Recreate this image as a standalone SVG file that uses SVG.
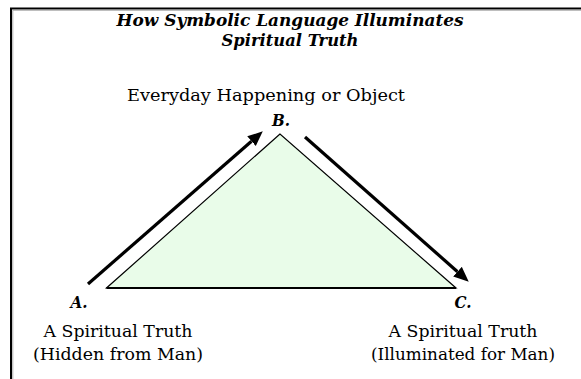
<svg xmlns="http://www.w3.org/2000/svg" width="581" height="379" viewBox="0 0 581 379">
<style>
.t{font-family:"DejaVu Serif","Liberation Serif",serif;fill:#000}
.title{font-size:16px;font-weight:bold;font-style:italic}
.lbl{font-size:16px;font-weight:bold;font-style:italic}
.txt{font-size:17px}
.arrow{stroke:#000;stroke-width:3.2;fill:none}
</style>
<defs>
<marker id="ah" markerUnits="userSpaceOnUse" markerWidth="16" markerHeight="14" refX="0" refY="6.5" orient="auto">
<path d="M0,0 L15,6.5 L0,13 z" fill="#000"/>
</marker>
</defs>
<rect width="581" height="379" fill="#fff"/>
<g id="frame">
<path d="M11,379 V8.5 H581" fill="none" stroke="#000" stroke-width="2"/>
<path d="M12.8,379 V10.3 H581" fill="none" stroke="#999" stroke-width="0.8"/>
</g>
<g id="title">
<text class="t title" x="290" y="26" text-anchor="middle" textLength="347" lengthAdjust="spacingAndGlyphs">How Symbolic Language Illuminates</text>
<text class="t title" x="290" y="46" text-anchor="middle" textLength="137" lengthAdjust="spacingAndGlyphs">Spiritual Truth</text>
</g>
<g id="triangle">
<polygon points="280,134 106.5,288 456,288" fill="#E9FCE9" stroke="#000" stroke-width="1.2" stroke-linejoin="miter"/>
<line x1="106.5" y1="288" x2="456" y2="288" stroke="#000" stroke-width="2"/>
</g>
<g id="connectors">
<line class="arrow" x1="88" y1="284" x2="251.5" y2="141.2" marker-end="url(#ah)"/>
<line class="arrow" x1="305" y1="137" x2="457.5" y2="271.7" marker-end="url(#ah)"/>
</g>
<g id="nodeB">
<text class="t txt" x="266" y="101" text-anchor="middle" textLength="278" lengthAdjust="spacingAndGlyphs">Everyday Happening or Object</text>
<text class="t lbl" x="281" y="126" text-anchor="middle" textLength="18" lengthAdjust="spacingAndGlyphs">B.</text>
</g>
<g id="nodeA">
<text class="t lbl" x="79" y="308" text-anchor="middle" textLength="17" lengthAdjust="spacingAndGlyphs">A.</text>
<text class="t txt" x="118" y="337" text-anchor="middle" textLength="149" lengthAdjust="spacingAndGlyphs">A Spiritual Truth</text>
<text class="t txt" x="118" y="360" text-anchor="middle" textLength="170" lengthAdjust="spacingAndGlyphs">(Hidden from Man)</text>
</g>
<g id="nodeC">
<text class="t lbl" x="463" y="308" text-anchor="middle" textLength="17" lengthAdjust="spacingAndGlyphs">C.</text>
<text class="t txt" x="463" y="337" text-anchor="middle" textLength="149" lengthAdjust="spacingAndGlyphs">A Spiritual Truth</text>
<text class="t txt" x="463" y="360" text-anchor="middle" textLength="184" lengthAdjust="spacingAndGlyphs">(Illuminated for Man)</text>
</g>
</svg>
